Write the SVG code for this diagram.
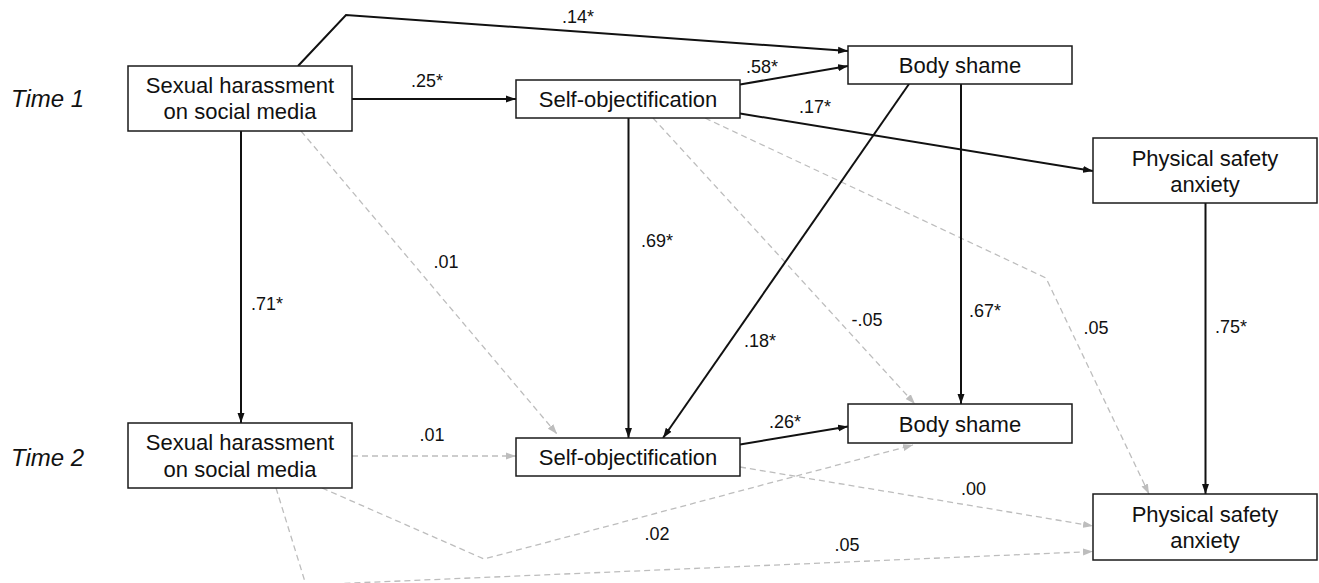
<svg xmlns="http://www.w3.org/2000/svg" width="1319" height="583" viewBox="0 0 1319 583">
<style>
.box{fill:#fff;stroke:#1a1a1a;stroke-width:1.5}
.nt{font-family:"Liberation Sans",Arial,sans-serif;font-size:22px;fill:#111;text-anchor:middle}
.lb{font-family:"Liberation Sans",Arial,sans-serif;font-size:18px;fill:#111;text-anchor:middle}
.tm{font-family:"Liberation Sans",Arial,sans-serif;font-size:24px;font-style:italic;fill:#111}
.s{fill:none;stroke:#111;stroke-width:2;marker-end:url(#ab)}
.d{fill:none;stroke:#bdbdbd;stroke-width:1.3;stroke-dasharray:6 4;marker-end:url(#ag)}
</style>
<defs>
<marker id="ab" markerUnits="userSpaceOnUse" markerWidth="11" markerHeight="8" refX="10" refY="4" orient="auto"><path d="M0,0.5 L10,4 L0,7.5 z" fill="#111"/></marker>
<marker id="ag" markerUnits="userSpaceOnUse" markerWidth="11" markerHeight="8" refX="10" refY="4" orient="auto"><path d="M0,0.5 L10,4 L0,7.5 z" fill="#bdbdbd"/></marker>
</defs>
<rect width="1319" height="583" fill="#fff"/>
<text class="tm" x="11" y="107">Time 1</text>
<text class="tm" x="11" y="466">Time 2</text>
<g id="connectors">
<polyline class="d" points="301,131 557,434"/>
<line class="d" x1="352" y1="456" x2="516" y2="456"/>
<line class="d" x1="653" y1="118" x2="915" y2="404"/>
<polyline class="d" points="705,118 1046,278 1149,494"/>
<polyline class="d" points="322,488 484,559 913,445"/>
<line class="d" x1="740" y1="467" x2="1093" y2="526"/>
<polyline class="d" points="276,488 306,585 1093,551.5"/>
<polyline class="s" points="298,66 346,15 848,51"/>
<line class="s" x1="352" y1="99" x2="516" y2="99"/>
<line class="s" x1="740" y1="84.5" x2="848" y2="66"/>
<line class="s" x1="740" y1="113.5" x2="1093" y2="171"/>
<line class="s" x1="241" y1="131" x2="241" y2="423"/>
<line class="s" x1="628.5" y1="118" x2="628.5" y2="438"/>
<line class="s" x1="909" y1="84" x2="663" y2="438"/>
<line class="s" x1="961" y1="84" x2="961" y2="404"/>
<line class="s" x1="1205.5" y1="203" x2="1205.5" y2="494"/>
<line class="s" x1="740" y1="444.5" x2="848" y2="426.5"/>
<text class="lb" x="578" y="23">.14*</text>
<text class="lb" x="427" y="87">.25*</text>
<text class="lb" x="762" y="73">.58*</text>
<text class="lb" x="815" y="113">.17*</text>
<text class="lb" x="267" y="310">.71*</text>
<text class="lb" x="446" y="268">.01</text>
<text class="lb" x="657" y="247">.69*</text>
<text class="lb" x="760" y="347">.18*</text>
<text class="lb" x="867" y="326">-.05</text>
<text class="lb" x="985" y="317">.67*</text>
<text class="lb" x="1096" y="334">.05</text>
<text class="lb" x="1231" y="333">.75*</text>
<text class="lb" x="432" y="441">.01</text>
<text class="lb" x="785" y="428">.26*</text>
<text class="lb" x="973.5" y="495">.00</text>
<text class="lb" x="657" y="540">.02</text>
<text class="lb" x="847" y="551">.05</text>
</g>
<g id="sh1"><rect class="box" x="128" y="66" width="224" height="65"/><text class="nt" x="240" y="93">Sexual harassment</text><text class="nt" x="240" y="119">on social media</text></g>
<g id="so1"><rect class="box" x="516" y="80" width="224" height="38"/><text class="nt" x="628" y="107">Self-objectification</text></g>
<g id="bs1"><rect class="box" x="848" y="46" width="224" height="38"/><text class="nt" x="960" y="73">Body shame</text></g>
<g id="psa1"><rect class="box" x="1093" y="138" width="224" height="65"/><text class="nt" x="1205" y="166">Physical safety</text><text class="nt" x="1205" y="192">anxiety</text></g>
<g id="sh2"><rect class="box" x="128" y="423" width="224" height="65"/><text class="nt" x="240" y="450">Sexual harassment</text><text class="nt" x="240" y="477">on social media</text></g>
<g id="so2"><rect class="box" x="516" y="438" width="224" height="38"/><text class="nt" x="628" y="465">Self-objectification</text></g>
<g id="bs2"><rect class="box" x="848" y="404" width="224" height="39"/><text class="nt" x="960" y="432">Body shame</text></g>
<g id="psa2"><rect class="box" x="1093" y="494" width="224" height="66"/><text class="nt" x="1205" y="522">Physical safety</text><text class="nt" x="1205" y="548">anxiety</text></g>
</svg>
